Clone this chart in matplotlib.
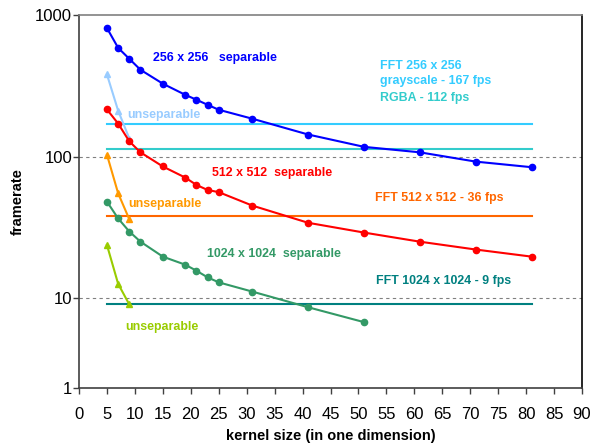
import matplotlib
matplotlib.use('Agg')
import matplotlib.pyplot as plt
import numpy as np

# --- data ---
kernel_sep = [5, 7, 9, 11, 15, 19, 21, 23, 25, 31, 41, 51, 61, 71, 81]
sep_256 = [809, 586, 490, 410, 327, 273, 252, 232, 214, 185, 143, 117, 107, 92, 84]
sep_512 = [215, 171, 128, 107, 85, 71, 63, 58, 56, 45, 34, 29, 25, 22, 19.6]
kernel_sep_1024 = [5, 7, 9, 11, 15, 19, 21, 23, 25, 31, 41, 51]
sep_1024 = [48, 36.5, 29.5, 25, 19.6, 17.2, 15.6, 14, 12.9, 11.1, 8.6, 6.75]

kernel_unsep = [5, 7, 9]
unsep_256 = [380, 211, 134]
unsep_512 = [103, 55, 36]
unsep_1024 = [23.7, 12.6, 9.0]

fft_x = [5, 81]
fft_256_gray = 170
fft_256_rgba = 113
fft_512 = 38
fft_1024 = 9

x_ticks = list(range(0, 95, 5))
y_tick_labels = ["1", "10", "100", "1000"]

# colours
c_blue = "#0000FF"
c_lblue = "#99CCFF"
c_red = "#FF0000"
c_orange = "#FF9900"
c_green = "#339966"
c_ygreen = "#99CC00"
c_fft_gray = "#33CCFF"
c_fft_rgba = "#33CCCC"
c_fft_512 = "#FF6600"
c_fft_1024 = "#008080"

plt.rcParams['font.family'] = ['Liberation Sans', 'DejaVu Sans']

fig = plt.figure(figsize=(5.93, 4.48), dpi=100)
ax = fig.add_axes([79 / 593, 60 / 448, 503 / 593, 373 / 448])

# bottom of the axis sits lower than one full decade below 10 in the reference
y_bottom = 10 ** (1 - 90 / 141.5)
ax.set_yscale('log')
ax.set_ylim(y_bottom, 1000)
ax.set_xlim(0, 90)

# grid lines at 10 and 100
for g in [10, 100]:
    ax.axhline(g, color='#808080', linestyle=(0, (3, 3)), linewidth=0.8, zorder=1)

# FFT reference lines
ax.plot(fft_x, [fft_256_gray] * 2, color=c_fft_gray, lw=1.5, zorder=2)
ax.plot(fft_x, [fft_256_rgba] * 2, color=c_fft_rgba, lw=1.5, zorder=2)
ax.plot(fft_x, [fft_512] * 2, color=c_fft_512, lw=1.5, zorder=2)
ax.plot(fft_x, [fft_1024] * 2, color=c_fft_1024, lw=1.5, zorder=2)

# separable curves
ax.plot(kernel_sep, sep_256, color=c_blue, marker='o', ms=4.5, lw=1.5, zorder=4)
ax.plot(kernel_sep, sep_512, color=c_red, marker='o', ms=4.5, lw=1.5, zorder=4)
ax.plot(kernel_sep_1024, sep_1024, color=c_green, marker='o', ms=4.5, lw=1.5, zorder=4)

# unseparable curves
ax.plot(kernel_unsep, unsep_256, color=c_lblue, marker='^', ms=4.5, lw=1.5, zorder=3)
ax.plot(kernel_unsep, unsep_512, color=c_orange, marker='^', ms=4.5, lw=1.5, zorder=3)
ax.plot(kernel_unsep, unsep_1024, color=c_ygreen, marker='^', ms=4.5, lw=1.5, zorder=3)

# annotations
kw = dict(fontsize=8.9, fontweight='bold', va='center', ha='left')
ax.text(13.2, 500, "256 x 256   separable", color=c_blue, **kw)
ax.text(8.6, 198, "unseparable", color=c_lblue, **kw)
ax.text(23.8, 77, "512 x 512  separable", color=c_red, **kw)
ax.text(8.9, 45.8, "unseparable", color=c_orange, **kw)
ax.text(22.9, 20.6, "1024 x 1024  separable", color=c_green, **kw)
ax.text(8.2, 6.2, "unseparable", color=c_ygreen, **kw)
ax.text(53.8, 433, "FFT 256 x 256", color=c_fft_gray, **kw)
ax.text(53.8, 339, "grayscale - 167 fps", color=c_fft_gray, **kw)
ax.text(53.8, 261, "RGBA - 112 fps", color=c_fft_rgba, **kw)
ax.text(53.0, 51, "FFT 512 x 512 - 36 fps", color=c_fft_512, **kw)
ax.text(53.1, 13.1, "FFT 1024 x 1024 - 9 fps", color=c_fft_1024, **kw)

# axes styling
ax.set_xticks(x_ticks)
ax.set_xticklabels([str(t) for t in x_ticks], fontsize=12)
ax.set_yticks([y_bottom, 10, 100, 1000])
ax.set_yticklabels(y_tick_labels, fontsize=12)
ax.yaxis.set_minor_locator(matplotlib.ticker.NullLocator())
ax.tick_params(axis='both', direction='out', length=4, width=1, color='#404040')
ax.tick_params(axis='x', pad=10)
ax.tick_params(axis='y', pad=1)

ax.spines['left'].set_color('#404040')
ax.spines['bottom'].set_color('#404040')
ax.spines['top'].set_color('#808080')
ax.spines['right'].set_color('black')
for s in ax.spines.values():
    s.set_linewidth(1.2)

ax.set_xlabel("kernel size (in one dimension)", fontsize=10.5, fontweight='bold')
ax.set_ylabel("framerate", fontsize=10.5, fontweight='bold')
ax.xaxis.set_label_coords(0.5, (388 - 436) / 373)
ax.xaxis.label.set_va('center')
ax.yaxis.set_label_coords((18 - 79) / 503, 0.5)
ax.yaxis.label.set_va('center')

fig.savefig("out.png", dpi=100)
